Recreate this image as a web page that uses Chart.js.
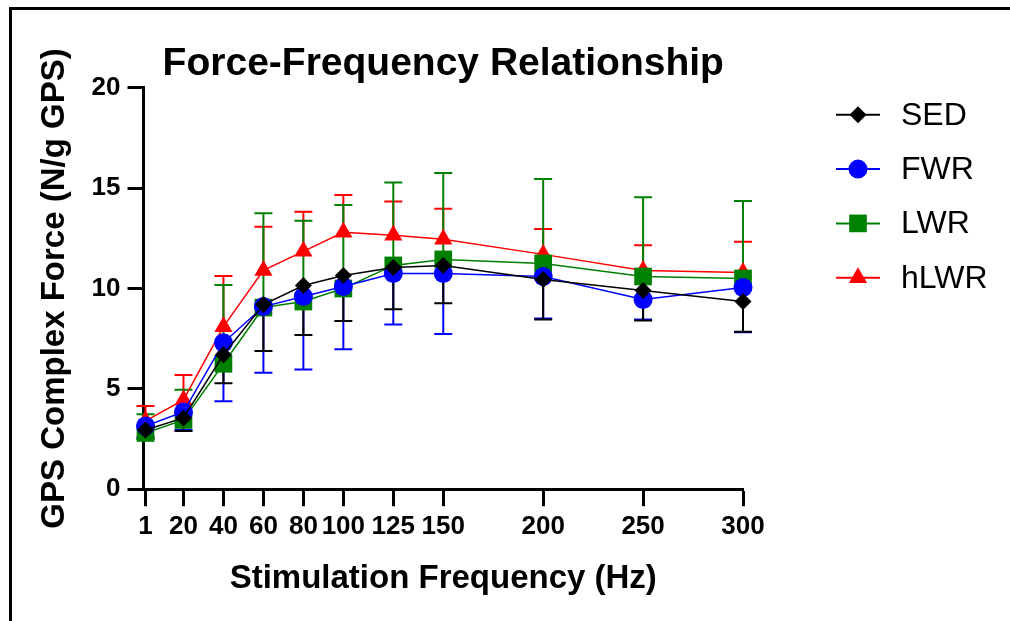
<!DOCTYPE html>
<html>
<head>
<meta charset="utf-8">
<script src="https://cdn.jsdelivr.net/npm/chart.js@4"></script>
<style>
    html, body { margin: 0; padding: 0; background: #fff; }
    #wrap { position: relative; width: 1010px; height: 621px; overflow: hidden; }
    #frame { position: absolute; left: 9px; top: 7px; width: 1100px; height: 700px; border-top: 3px solid #000; border-left: 3px solid #000; }
</style>
</head>
<body>
<div id="wrap">
    <canvas id="chart" width="1010" height="621"></canvas>
    <div id="frame"></div>
</div>
<script>
// stimulation frequencies (Hz)
const frequencies = [1, 20, 40, 60, 80, 100, 125, 150, 200, 250, 300]
const groups = ['SED', 'FWR', 'LWR', 'hLWR']

// mean force, N/g GPS
const sedMean = [2.95, 3.55, 6.7, 9.2, 10.15, 10.65, 11.05, 11.15, 10.45, 9.9, 9.35]
const fwrMean = [3.15, 3.85, 7.3, 9.1, 9.6, 10.1, 10.75, 10.75, 10.6, 9.45, 10.05]
const lwrMean = [2.8, 3.45, 6.25, 9.05, 9.35, 10.0, 11.15, 11.45, 11.25, 10.6, 10.5]
const hlwrMean = [3.4, 4.45, 8.1, 10.9, 11.85, 12.8, 12.65, 12.45, 11.7, 10.9, 10.8]

// SD (SED/FWR drawn below the mean, LWR/hLWR above)
const sedSD = [0.45, 0.65, 1.42, 2.32, 2.47, 2.27, 2.09, 1.89, 1.99, 1.49, 1.5]
const fwrSD = [0.55, 0.9, 2.92, 3.3, 3.63, 3.13, 2.54, 3.02, 2.1, 1.0, 2.23]
const lwrSD = [0.94, 1.5, 3.92, 4.7, 4.02, 4.16, 4.13, 4.3, 4.21, 3.95, 3.86]
const hlwrSD = [0.75, 1.24, 2.52, 2.18, 1.98, 1.86, 1.68, 1.52, 1.27, 1.25, 1.53]

const means = [sedMean, fwrMean, lwrMean, hlwrMean]
const sds = [sedSD, fwrSD, lwrSD, hlwrSD]
const errDir = [-1, -1, 1, 1]
const colors = ['#000000', '#0000ff', '#008000', '#ff0000']
const markers = ['rectRot', 'circle', 'rect', 'triangle']
const markerSize = [8.5, 9.5, 12.5, 10.5]

const yTicks = [0, 5, 10, 15, 20]

Chart.defaults.font.family = "'Liberation Sans', Arial, sans-serif"
Chart.defaults.color = '#000'

function buildDatasets() {
    return groups.map((name, i) => ({
        label: name,
        data: frequencies.map((f, j) => ({x: f, y: means[i][j]})),
        sd: sds[i],
        dir: errDir[i],
        borderColor: colors[i],
        backgroundColor: colors[i],
        borderWidth: 1.5,
        pointStyle: markers[i],
        pointRadius: markerSize[i],
        pointBorderWidth: 0,
        pointBackgroundColor: colors[i],
        clip: false
    }))
}

const errorBars = {
    id: 'errorBars',
    beforeDatasetsDraw(chart) {
        const ctx = chart.ctx
        const xs = chart.scales.x
        const ys = chart.scales.y
        for (let i = chart.data.datasets.length - 1; i >= 0; i--) {
            const ds = chart.data.datasets[i]
            ctx.save()
            ctx.strokeStyle = ds.borderColor
            ctx.lineWidth = 2
            ds.data.forEach((p, j) => {
                const px = xs.getPixelForValue(p.x)
                const y0 = ys.getPixelForValue(p.y)
                const y1 = ys.getPixelForValue(p.y + ds.dir * ds.sd[j])
                ctx.beginPath()
                ctx.moveTo(px, y0)
                ctx.lineTo(px, y1)
                ctx.moveTo(px - 9, y1)
                ctx.lineTo(px + 9, y1)
                ctx.stroke()
            })
            ctx.restore()
        }
    }
}

const sideLegend = {
    id: 'sideLegend',
    afterDraw(chart) {
        const ctx = chart.ctx
        const left = chart.chartArea.right + 93
        const top = chart.chartArea.top + 27
        chart.data.datasets.forEach((ds, i) => {
            const y = top + i * 54.3
            ctx.save()
            ctx.strokeStyle = ds.borderColor
            ctx.lineWidth = 2
            ctx.beginPath()
            ctx.moveTo(left, y)
            ctx.lineTo(left + 44, y)
            ctx.stroke()
            ctx.fillStyle = ds.backgroundColor
            Chart.helpers.drawPoint(ctx, {pointStyle: ds.pointStyle, radius: ds.pointRadius, rotation: 0, borderWidth: 0}, left + 22, y)
            ctx.fillStyle = '#000'
            ctx.font = "32px 'Liberation Sans', Arial, sans-serif"
            ctx.textBaseline = 'middle'
            ctx.fillText(ds.label, left + 65, y + 1)
            ctx.restore()
        })
    }
}

const chart = new Chart(document.querySelector('#chart'), {
    type: 'line',
    data: {datasets: buildDatasets()},
    plugins: [errorBars, sideLegend],
    options: {
        responsive: false,
        animation: false,
        layout: {padding: {left: 35, right: 267, top: 0, bottom: 4}},
        plugins: {
            legend: {display: false},
            tooltip: {enabled: false},
            title: {
                display: true,
                text: 'Force-Frequency Relationship',
                fullSize: false,
                font: {size: 39, weight: 'bold'},
                padding: {top: 41, bottom: 0}
            }
        },
        scales: {
            x: {
                type: 'linear',
                min: 0,
                max: 300,
                afterBuildTicks: (scale) => { scale.ticks = frequencies.map(v => ({value: v})) },
                ticks: {
                    font: {size: 26, weight: 'bold'},
                    padding: 5,
                    maxRotation: 0,
                    autoSkip: false,
                    callback: (v) => String(v)
                },
                grid: {drawOnChartArea: false, tickLength: 17, tickWidth: 3, tickColor: '#000'},
                border: {width: 3, color: '#000'},
                title: {
                    display: true,
                    text: 'Stimulation Frequency (Hz)',
                    font: {size: 33, weight: 'bold'},
                    padding: {top: 12, bottom: 18}
                }
            },
            y: {
                min: 0,
                max: 20,
                afterBuildTicks: (scale) => { scale.ticks = yTicks.map(v => ({value: v})) },
                ticks: {
                    font: {size: 26, weight: 'bold'},
                    padding: 7
                },
                grid: {drawOnChartArea: false, tickLength: 16, tickWidth: 3, tickColor: '#000'},
                border: {width: 3, color: '#000'},
                title: {
                    display: true,
                    text: 'GPS Complex Force (N/g GPS)',
                    font: {size: 33, weight: 'bold'},
                    padding: {top: 0, bottom: 10}
                }
            }
        }
    }
})
</script>
</body>
</html>
